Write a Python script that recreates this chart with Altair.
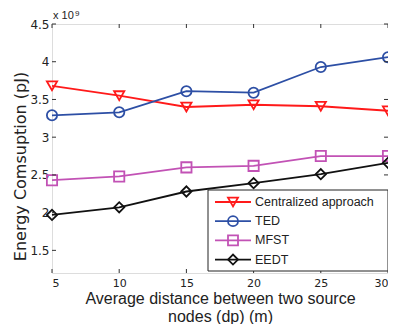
import altair as alt
import pandas as pd

distance = [5, 10, 15, 20, 25, 30]
centralized = [3.68, 3.55, 3.40, 3.43, 3.41, 3.35]
ted = [3.29, 3.33, 3.61, 3.59, 3.93, 4.06]
mfst = [2.43, 2.48, 2.60, 2.62, 2.75, 2.75]
eedt = [1.97, 2.07, 2.28, 2.39, 2.51, 2.66]
series = ["Centralized approach", "TED", "MFST", "EEDT"]
colors = ["#ff1a1a", "#2d4fa5", "#c252b5", "#111111"]
shapes = ["triangle-down", "circle", "square", "diamond"]
x_ticks = [5, 10, 15, 20, 25, 30]
y_ticks = [1.5, 2, 2.5, 3, 3.5, 4, 4.5]

W, H = 336, 249
FONT = "Liberation Sans"
TFONT = "DejaVu Sans"

rows = []
for name, vals in zip(series, [centralized, ted, mfst, eedt]):
    for d, v in zip(distance, vals):
        rows.append({"d": d, "e": v, "s": name})
df = pd.DataFrame(rows)

xs = alt.Scale(domain=[5, 30], nice=False)
ys = alt.Scale(domain=[1.2, 4.5], nice=False)
cs = alt.Scale(domain=series, range=colors)
ss = alt.Scale(domain=series, range=shapes)

base = alt.Chart(df)

lines = base.mark_line(strokeWidth=1.8).encode(
    x=alt.X("d:Q", scale=xs, axis=alt.Axis(
        values=x_ticks, orient="bottom", ticks=False, domain=False, grid=False,
        labelPadding=4, labelFontSize=11, labelColor="#222", labelFont=TFONT,
        title=["Average distance between two source", "nodes (dp) (m)"],
        titleFont=FONT, titleFontSize=16, titleFontWeight="normal", titleColor="#222",
        titlePadding=2, titleLineHeight=18)),
    y=alt.Y("e:Q", scale=ys, axis=alt.Axis(
        values=y_ticks, orient="left", ticks=False, domain=False, grid=False, format="~g",
        labelPadding=3, labelFontSize=12, labelColor="#222", labelFont=TFONT,
        title="Energy Comsuption (pJ)", titleFont=TFONT, titleFontSize=16,
        titleFontWeight="normal", titleColor="#222", titlePadding=1, titleY=142)),
    color=alt.Color("s:N", scale=cs, legend=None),
    detail="s:N",
)

points = base.mark_point(size=105, strokeWidth=1.8, filled=False, opacity=1).encode(
    x=alt.X("d:Q", scale=xs, axis=None),
    y=alt.Y("e:Q", scale=ys, axis=None),
    color=alt.Color("s:N", scale=cs, legend=None),
    shape=alt.Shape("s:N", scale=ss, legend=None),
)

xt = alt.Chart(pd.DataFrame({"t": x_ticks}))
yt = alt.Chart(pd.DataFrame({"t": y_ticks}))
tick_bottom = xt.mark_rule(color="#333", strokeWidth=1).encode(
    x=alt.X("t:Q", scale=xs, axis=None), y=alt.value(H), y2=alt.value(H - 4))
tick_top = xt.mark_rule(color="#333", strokeWidth=1).encode(
    x=alt.X("t:Q", scale=xs, axis=None), y=alt.value(0), y2=alt.value(4))
tick_left = yt.mark_rule(color="#333", strokeWidth=1).encode(
    y=alt.Y("t:Q", scale=ys, axis=None), x=alt.value(0), x2=alt.value(4))
tick_right = yt.mark_rule(color="#333", strokeWidth=1).encode(
    y=alt.Y("t:Q", scale=ys, axis=None), x=alt.value(W - 4), x2=alt.value(W))

one = alt.Chart(pd.DataFrame({"a": [0]}))
exp1 = one.mark_text(text="x 10", align="left", baseline="alphabetic", fontSize=11,
                     font=FONT, color="#222").encode(x=alt.value(1), y=alt.value(-5))
exp2 = one.mark_text(text="9", align="left", baseline="alphabetic", fontSize=8,
                     font=FONT, color="#222").encode(x=alt.value(23), y=alt.value(-8.5))

legend_layers = [
    one.mark_rect(fill="white", stroke="#222", strokeWidth=1).encode(
        x=alt.value(156), x2=alt.value(W), y=alt.value(166), y2=alt.value(247))
]
for i, (name, col, shp) in enumerate(zip(series, colors, shapes)):
    ly = 178 + 19.2 * i
    legend_layers.append(one.mark_rule(color=col, strokeWidth=1.8).encode(
        x=alt.value(163), x2=alt.value(199), y=alt.value(ly)))
    legend_layers.append(one.mark_point(shape=shp, size=100, strokeWidth=1.8, filled=False,
                                        color=col, opacity=1).encode(
        x=alt.value(181), y=alt.value(ly)))
    legend_layers.append(one.mark_text(text=name, align="left", baseline="middle",
                                       fontSize=12.5, font=FONT, color="#222").encode(
        x=alt.value(203), y=alt.value(ly)))

chart = alt.layer(lines, points, tick_bottom, tick_top, tick_left, tick_right,
                  exp1, exp2, *legend_layers).resolve_axis(
    x="independent", y="independent"
).properties(
    width=W, height=H,
    autosize=alt.AutoSizeParams(type="none"),
    padding={"left": 44, "top": 16, "right": 0, "bottom": 51},
).configure_view(stroke="#222", strokeWidth=1).configure(background="white")

chart.save("out.html", embed_options={"renderer": "svg", "actions": False})
